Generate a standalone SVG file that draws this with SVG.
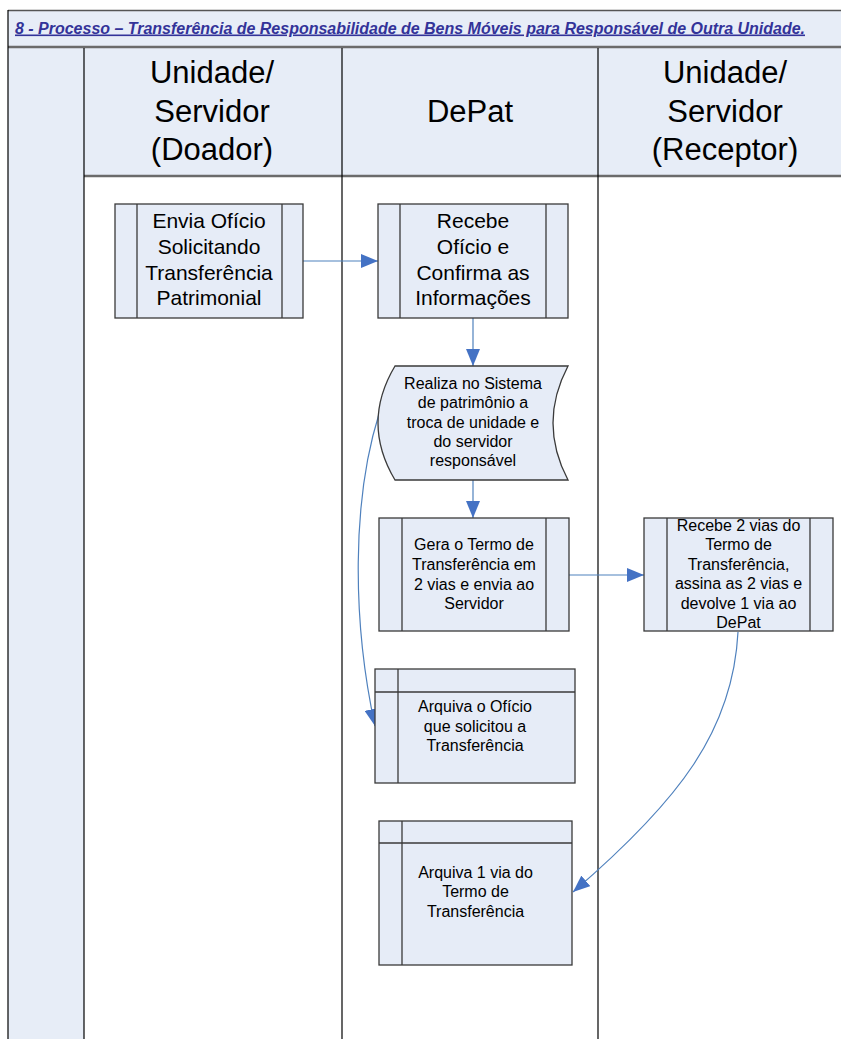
<svg xmlns="http://www.w3.org/2000/svg" width="841" height="1039" viewBox="0 0 841 1039">
  <style>
    .band { fill: #E7EDF7; }
    .lane { stroke: #000; stroke-width: 1.2; fill: none; }
    .rule { stroke: #6b6b6b; stroke-width: 2.5; fill: none; }
    .box { fill: #E6ECF7; stroke: #3a3a3a; stroke-width: 1.3; }
    .inner { stroke: #3a3a3a; stroke-width: 1.3; fill: none; }
    .hdr { font-family: "Liberation Sans", Arial, sans-serif; font-size: 31px; fill: #000; text-anchor: middle; }
    .big { font-family: "Liberation Sans", Arial, sans-serif; font-size: 21px; fill: #000; text-anchor: middle; }
    .sm { font-family: "Liberation Sans", Arial, sans-serif; font-size: 16px; fill: #000; text-anchor: middle; }
    .title { font-family: "Liberation Sans", Arial, sans-serif; font-size: 16px; font-weight: bold; font-style: italic; fill: #333399; text-decoration: underline; }
    .flow { stroke: #4F81BD; stroke-width: 1.2; fill: none; marker-end: url(#arrow); }
  </style>
  <defs>
    <marker id="arrow" markerUnits="userSpaceOnUse" markerWidth="18" markerHeight="14" refX="17" refY="7" orient="auto">
      <path d="M0,0 L17,7 L0,14 Z" fill="#4472C4"/>
    </marker>
  </defs>

  <rect x="0" y="0" width="841" height="1039" fill="#fff"/>

  <!-- title band -->
  <g id="title">
    <rect class="band" x="8" y="10.5" width="840" height="36"/>
    <line x1="8" y1="10.5" x2="841" y2="10.5" stroke="#555" stroke-width="1.5"/>
    <text class="title" x="15" y="33.5" textLength="790" lengthAdjust="spacingAndGlyphs">8 - Processo – Transferência de Responsabilidade de Bens Móveis para Responsável de Outra Unidade.</text>
  </g>

  <!-- pool frame and lanes -->
  <g id="lanes">
    <rect class="band" x="8" y="47" width="76" height="992"/>
    <rect class="band" x="84" y="48" width="757" height="128"/>
    <line class="rule" x1="8" y1="47" x2="841" y2="47"/>
    <line class="rule" x1="84" y1="176" x2="841" y2="176" stroke-width="2"/>
    <line class="lane" x1="8" y1="10" x2="8" y2="1039" stroke="#333"/>
    <line class="lane" x1="84" y1="48" x2="84" y2="1039"/>
    <line class="lane" x1="342" y1="48" x2="342" y2="1039"/>
    <line class="lane" x1="598" y1="48" x2="598" y2="1039"/>
    <text class="hdr" x="212" y="83">Unidade/</text>
    <text class="hdr" x="212" y="122">Servidor</text>
    <text class="hdr" x="212" y="160">(Doador)</text>
    <text class="hdr" x="470" y="122">DePat</text>
    <text class="hdr" x="725" y="83">Unidade/</text>
    <text class="hdr" x="725" y="122">Servidor</text>
    <text class="hdr" x="725" y="160">(Receptor)</text>
  </g>

  <!-- connectors -->
  <g id="connectors">
    <line class="flow" x1="303" y1="261" x2="378" y2="261"/>
    <line class="flow" x1="473" y1="318" x2="473" y2="366"/>
    <line class="flow" x1="473" y1="480" x2="473" y2="518"/>
    <line class="flow" x1="569" y1="575" x2="644" y2="575"/>
    <path class="flow" d="M 379 414 C 352 500, 352 620, 375 726"/>
    <path class="flow" d="M 738 632 C 733 730, 680 800, 573 892"/>
  </g>

  <g id="envia-oficio">
    <rect class="box" x="115" y="204" width="188" height="114"/>
    <line class="inner" x1="137" y1="204" x2="137" y2="318"/>
    <line class="inner" x1="282" y1="204" x2="282" y2="318"/>
    <text class="big" x="209" y="228">Envia Ofício</text>
    <text class="big" x="209" y="254">Solicitando</text>
    <text class="big" x="209" y="280">Transferência</text>
    <text class="big" x="209" y="305">Patrimonial</text>
  </g>

  <g id="recebe-oficio">
    <rect class="box" x="378" y="204" width="190" height="114"/>
    <line class="inner" x1="400" y1="204" x2="400" y2="318"/>
    <line class="inner" x1="546" y1="204" x2="546" y2="318"/>
    <text class="big" x="473" y="228">Recebe</text>
    <text class="big" x="473" y="254">Ofício e</text>
    <text class="big" x="473" y="280">Confirma as</text>
    <text class="big" x="473" y="305">Informações</text>
  </g>

  <g id="realiza-sistema">
    <path class="box" d="M 395 366 H 568 Q 538 423 568 480 H 395 Q 361 423 395 366 Z"/>
    <text class="sm" x="473" y="389">Realiza no Sistema</text>
    <text class="sm" x="473" y="408">de patrimônio a</text>
    <text class="sm" x="473" y="428">troca de unidade e</text>
    <text class="sm" x="473" y="447">do servidor</text>
    <text class="sm" x="473" y="466">responsável</text>
  </g>

  <g id="gera-termo">
    <rect class="box" x="379" y="518" width="190" height="113"/>
    <line class="inner" x1="402" y1="518" x2="402" y2="631"/>
    <line class="inner" x1="546" y1="518" x2="546" y2="631"/>
    <text class="sm" x="474" y="550">Gera o Termo de</text>
    <text class="sm" x="474" y="570">Transferência em</text>
    <text class="sm" x="474" y="590">2 vias e envia ao</text>
    <text class="sm" x="474" y="609">Servidor</text>
  </g>

  <g id="recebe-vias">
    <rect class="box" x="644" y="518" width="189" height="113"/>
    <line class="inner" x1="667" y1="518" x2="667" y2="631"/>
    <line class="inner" x1="810" y1="518" x2="810" y2="631"/>
    <text class="sm" x="738.5" y="531">Recebe 2 vias do</text>
    <text class="sm" x="738.5" y="550">Termo de</text>
    <text class="sm" x="738.5" y="570">Transferência,</text>
    <text class="sm" x="738.5" y="589">assina as 2 vias e</text>
    <text class="sm" x="738.5" y="609">devolve 1 via ao</text>
    <text class="sm" x="738.5" y="628">DePat</text>
  </g>

  <g id="arquiva-oficio">
    <rect class="box" x="375" y="669" width="200" height="114"/>
    <line class="inner" x1="375" y1="692" x2="575" y2="692"/>
    <line class="inner" x1="398" y1="669" x2="398" y2="783"/>
    <text class="sm" x="475" y="712">Arquiva o Ofício</text>
    <text class="sm" x="475" y="732">que solicitou a</text>
    <text class="sm" x="475" y="751">Transferência</text>
  </g>

  <g id="arquiva-termo">
    <rect class="box" x="379" y="821" width="193" height="144"/>
    <line class="inner" x1="379" y1="843" x2="572" y2="843"/>
    <line class="inner" x1="402" y1="821" x2="402" y2="965"/>
    <text class="sm" x="475.5" y="878">Arquiva 1 via do</text>
    <text class="sm" x="475.5" y="897">Termo de</text>
    <text class="sm" x="475.5" y="917">Transferência</text>
  </g>
</svg>
